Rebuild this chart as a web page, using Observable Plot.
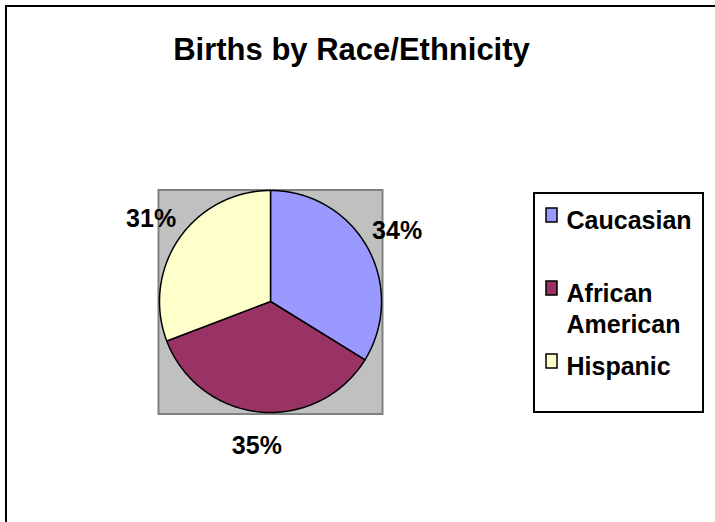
<!DOCTYPE html>
<html>
<head>
<meta charset="utf-8">
<script src="https://cdn.jsdelivr.net/npm/d3@7"></script>
<script src="https://cdn.jsdelivr.net/npm/@observablehq/plot@0.6"></script>
<style>
  html, body { margin: 0; padding: 0; background: white; overflow: hidden; }
</style>
</head>
<body>
<div id="chart"></div>
<script>
// ---- data ----
const title = "Births by Race/Ethnicity";
const categories = ["Caucasian", "African American", "Hispanic"];
const shares = [33.8, 35.4, 30.8];
const legendLabels = ["Caucasian", "African\nAmerican", "Hispanic"];
const colors = ["#9999FF", "#993366", "#FFFFCC"];

// ---- layout ----
const W = 715, H = 522;
const pieCx = 270, pieCy = 301, pieR = 111, labelR = 145;
const font = "'Liberation Sans', Arial, sans-serif";

const rows = categories.map((c, i) => ({cat: c, v: shares[i], label: legendLabels[i], i}));
const arcs = d3.pie().sort(null).value(d => d.v)(rows);

// polygon points for each slice, from pie angles
const slicePts = [];
for (const a of arcs) {
  slicePts.push({cat: a.data.cat, x: pieCx, y: pieCy});
  const n = Math.max(2, Math.ceil((a.endAngle - a.startAngle) / (Math.PI / 360)));
  for (let k = 0; k <= n; k++) {
    const t = a.startAngle + (a.endAngle - a.startAngle) * k / n;
    slicePts.push({cat: a.data.cat, x: pieCx + pieR * Math.sin(t), y: pieCy - pieR * Math.cos(t)});
  }
}
const total = d3.sum(shares);
const pieLabels = arcs.map(a => {
  const m = (a.startAngle + a.endAngle) / 2;
  return {x: pieCx + labelR * Math.sin(m), y: pieCy - labelR * Math.cos(m),
          text: Math.round(a.data.v / total * 100) + "%"};
});

const legTop = 206, legStep = 73;
const legend = rows.map(r => ({...r, top: legTop + r.i * legStep}));

const plot = Plot.plot({
  width: W, height: H, margin: 0,
  x: {domain: [0, W], range: [0, W], axis: null},
  y: {domain: [0, H], range: [0, H], axis: null},
  color: {domain: categories, range: colors},
  style: {background: "white", overflow: "hidden"},
  marks: [
    // outer chart border
    Plot.rect([0], {x1: 6, x2: W + 20, y1: 6, y2: H + 20, fill: "white", stroke: "black", strokeWidth: 2}),
    // plot area
    Plot.rect([0], {x1: 158.5, x2: 382.5, y1: 190, y2: 414, fill: "#C0C0C0", stroke: "#808080", strokeWidth: 2}),
    // pie slices
    Plot.line(slicePts, {x: "x", y: "y", z: "cat", fill: "cat", stroke: "black", strokeWidth: 1.5, curve: "linear-closed"}),
    // slice labels
    Plot.text(pieLabels, {x: "x", y: "y", text: "text", fontSize: 25, fontWeight: "bold", fontFamily: font, fill: "black", lineAnchor: "middle"}),
    // title
    Plot.text([title], {x: 351, y: 37, text: d => d, fontSize: 31, fontWeight: "bold", fontFamily: font, fill: "black", lineAnchor: "top"}),
    // legend box
    Plot.rect([0], {x1: 534, x2: 703, y1: 193, y2: 412, fill: "white", stroke: "black", strokeWidth: 2}),
    // legend swatches
    Plot.rect(legend, {x1: 546, x2: 557, y1: d => d.top + 2, y2: d => d.top + 16, fill: "cat", stroke: "black", strokeWidth: 1.5}),
    // legend labels
    Plot.text(legend, {x: 566, y: "top", text: "label", textAnchor: "start", lineAnchor: "top", lineHeight: 1.24, fontSize: 25, fontWeight: "bold", fontFamily: font, fill: "black"})
  ]
});
document.getElementById("chart").appendChild(plot);
</script>
</body>
</html>
